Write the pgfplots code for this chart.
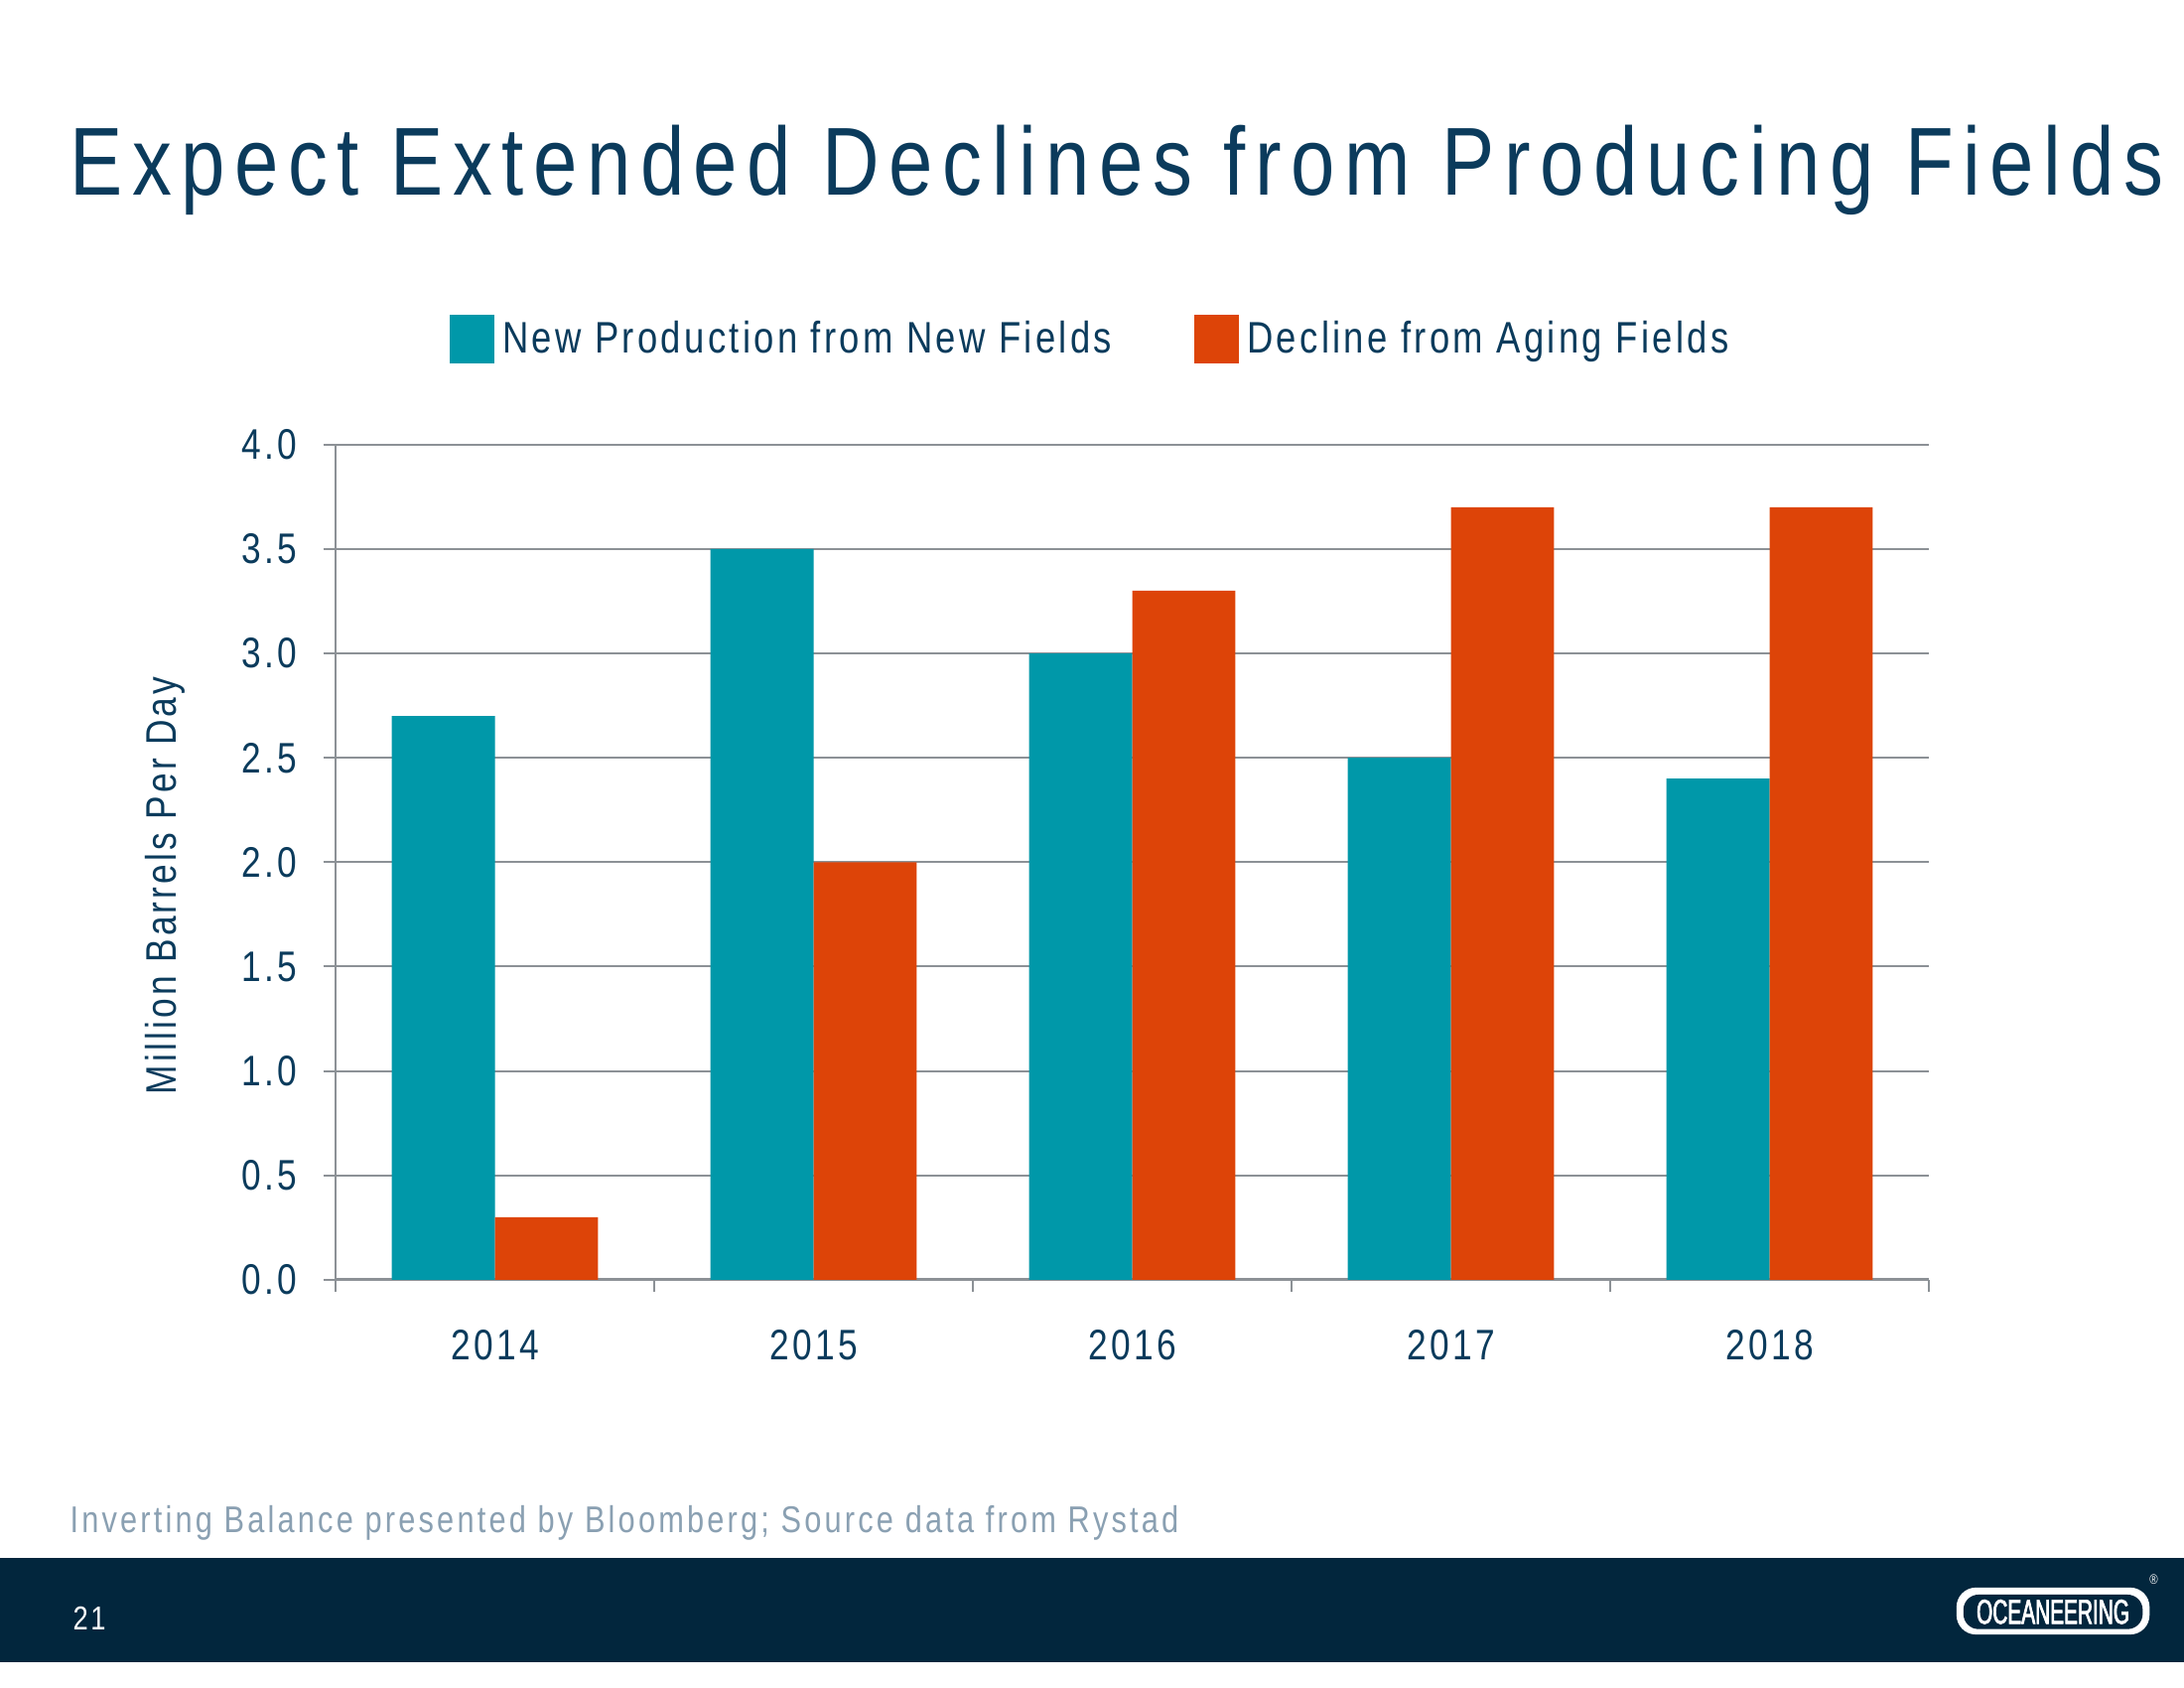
\documentclass[border=0pt]{standalone}
\usepackage{fontspec}
\setmainfont{Liberation Sans}[FakeStretch=0.82, LetterSpace=7.5]
\newfontfamily\titlefont{Liberation Sans}[FakeStretch=0.82, LetterSpace=9.8]
\newfontfamily\logofont{Liberation Sans}[FakeStretch=0.6, FakeBold=2]
\usepackage{pgfplots}
\pgfplotsset{compat=1.18}
\definecolor{teal1}{RGB}{0,152,169}
\definecolor{orange1}{RGB}{221,68,8}
\definecolor{navy}{RGB}{11,59,92}
\definecolor{footer}{RGB}{2,38,61}
\definecolor{gridgray}{RGB}{140,145,150}
\definecolor{notegray}{RGB}{138,160,178}
\begin{document}
\begin{tikzpicture}
\useasboundingbox (0,0) rectangle (792pt,612pt);
\fill[white] (0,0) rectangle (792pt,612pt);
\fill[footer] (0,9.4pt) rectangle (792pt,47.2pt);
\node[anchor=base west, inner sep=0pt, text=navy, font=\titlefont\fontsize{35}{40}\selectfont] at (25.2pt,541.4pt) {Expect Extended Declines from Producing Fields};
\node[anchor=base west, inner sep=0pt, text=notegray, font=\fontsize{13.5}{16}\selectfont\addfontfeature{LetterSpace=8.5}] at (25.2pt,56.5pt) {Inverting Balance presented by Bloomberg; Source data from Rystad};
\node[anchor=west, inner sep=0pt, text=white, font=\fontsize{12}{14}\selectfont] at (26.3pt,25.2pt) {21};
\node[fill=white, rounded corners=7pt, minimum width=70pt, minimum height=17pt, inner sep=0pt] at (744.5pt,27.9pt) {};
\node[fill=footer, rounded corners=5.5pt, minimum width=65pt, minimum height=12.5pt, inner sep=0pt, text=white, font=\logofont\fontsize{12.5}{14}\selectfont] at (744.5pt,27.6pt) {OCEANEERING};
\node[text=white, inner sep=0pt, font=\fontsize{5}{6}\selectfont] at (781pt,39.5pt) {\textregistered};
\begin{axis}[
  at={(121.7pt,148pt)}, anchor=south west,
  scale only axis, width=577.8pt, height=302.8pt,
  ybar=0pt, bar width=37.4pt,
  xmin=-0.5, xmax=4.5, ymin=0, ymax=4,
  xtick={-0.5,0.5,1.5,2.5,3.5,4.5}, xticklabels={},
  extra x ticks={0,1,2,3,4}, extra x tick labels={2014,2015,2016,2017,2018},
  extra x tick style={major tick length=0pt, xticklabel style={yshift=-14.5pt}},
  ytick={0,0.5,...,4},
  axis x line*=bottom, axis y line*=left,
  axis line style={gridgray, line width=0.7pt},
  x axis line style={line width=1.1pt},
  tick align=outside,
  major tick length=4.5pt,
  tick style={gridgray, line width=0.7pt},
  ymajorgrids, grid style={gridgray, line width=0.7pt},
  /pgf/number format/fixed, /pgf/number format/fixed zerofill, /pgf/number format/precision=1, /pgf/number format/assume math mode=true,
  ticklabel style={text=navy, font=\fontsize{15.5}{18}\selectfont},
  yticklabel style={xshift=-6pt},
  ylabel={Million Barrels Per Day},
  ylabel style={at={(axis description cs:-0.107,0.472)}, anchor=center, text=navy, font=\fontsize{15.5}{18}\selectfont},
  legend columns=2,
  legend style={at={(axis description cs:0.0715,1.1268)}, anchor=west, draw=none, fill=none, inner sep=0pt,
    font=\fontsize{16}{19}\selectfont, text=navy,
    /tikz/every odd column/.append style={column sep=1pt},
    /tikz/every even column/.append style={column sep=28pt}},
  legend image code/.code={\fill[#1] (0pt,-8.8pt) rectangle (16pt,8.8pt);},
]
\addplot[fill=teal1, draw=none] coordinates {(0,2.7) (1,3.5) (2,3.0) (3,2.5) (4,2.4)};
\addplot[fill=orange1, draw=none] coordinates {(0,0.3) (1,2.0) (2,3.3) (3,3.7) (4,3.7)};
\legend{New Production from New Fields, Decline from Aging Fields}
\end{axis}
\end{tikzpicture}
\end{document}
